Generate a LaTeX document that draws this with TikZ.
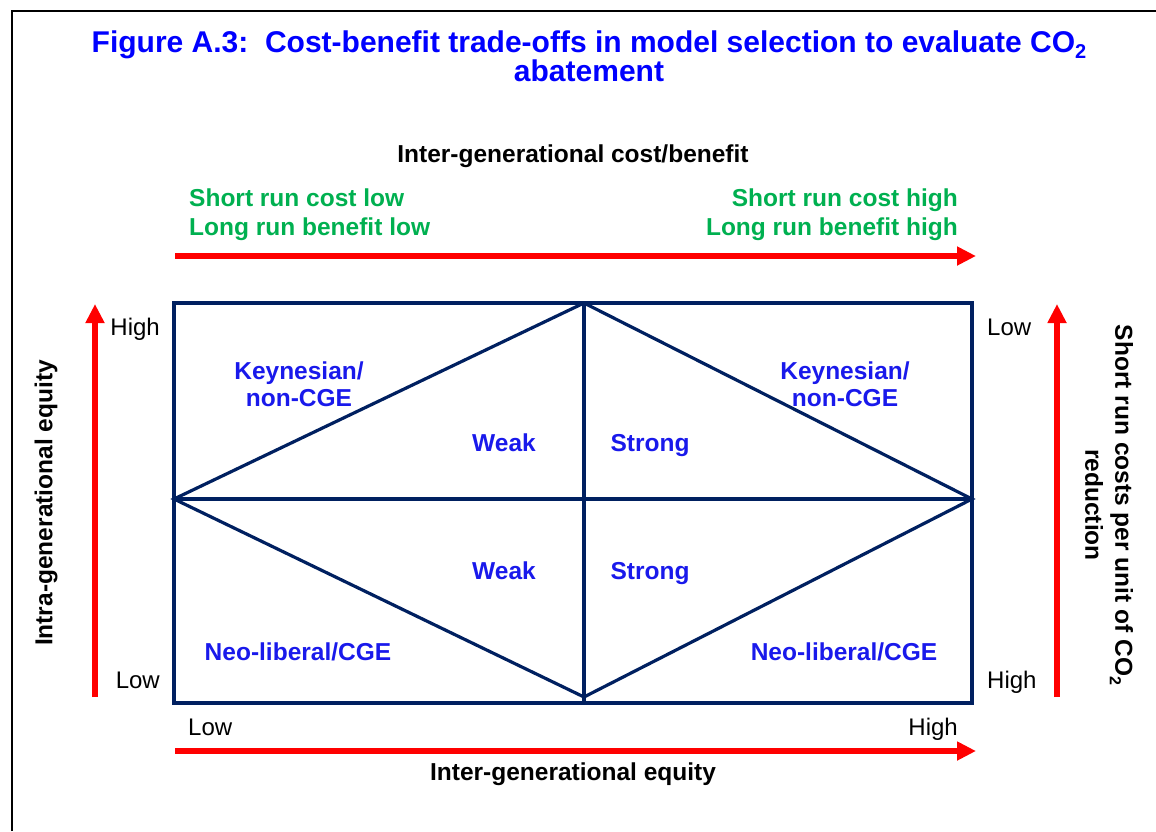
\documentclass[tikz,border=0pt]{standalone}
\usepackage{fontspec}
\setmainfont{Liberation Sans}
\usetikzlibrary{arrows.meta}
\definecolor{titleblue}{RGB}{0,0,255}
\definecolor{lblblue}{RGB}{25,25,235}
\definecolor{navyline}{RGB}{0,32,96}
\definecolor{grn}{RGB}{0,176,80}
\newcommand{\subtwo}{\raisebox{-0.22em}{\fontsize{16}{16}\selectfont 2}}
\newcommand{\subtwotitle}{\raisebox{-0.22em}{\fontsize{20}{20}\selectfont 2}}
\tikzset{
  redarrow/.style={draw=red, line width=5.5pt, -{Triangle[length=19pt,width=18pt]}},
  boxline/.style={draw=navyline, line width=4pt},
  innerline/.style={draw=navyline, line width=3.2pt},
  frameline/.style={draw=black, line width=1.6pt},
  titletext/.style={font=\fontsize{30}{34}\selectfont\bfseries, text=titleblue, inner sep=0pt, anchor=base},
  axistext/.style={font=\fontsize{24.5}{30}\selectfont\bfseries, text=black, inner sep=0pt},
  greentext/.style={font=\fontsize{24.5}{29}\selectfont\bfseries, text=grn, inner sep=0pt, anchor=base},
  ticktext/.style={font=\fontsize{24}{29}\selectfont, text=black, inner sep=0pt},
  bluetext/.style={font=\fontsize{24.5}{27}\selectfont\bfseries, text=lblblue, inner sep=0pt, align=center},
}
\begin{document}
\begin{tikzpicture}[x=1pt,y=-1pt]
\useasboundingbox (0,0) rectangle (1156,831);
% outer frame (left and top)
\coordinate (F0) at (12,831);
\coordinate (F1) at (12,11);
\coordinate (F2) at (1157,11);
\draw[frameline] (F0) -- (F1) -- (F2);
% title
\node[titletext] (t1) at (589,52) {Figure A.3:\ \ Cost-benefit trade-offs in model selection to evaluate CO\subtwotitle};
\node[titletext] (t2) at (589,81) {abatement};
% top header
\node[axistext, anchor=base] (ih) at (573,162) {Inter-generational cost/benefit};
\node[greentext, anchor=base west] (g1) at (189,206) {Short run cost low};
\node[greentext, anchor=base west] (g2) at (189,235) {Long run benefit low};
\node[greentext, anchor=base east] (g3) at (958,206) {Short run cost high};
\node[greentext, anchor=base east] (g4) at (958,235) {Long run benefit high};
% arrows
\coordinate (ta0) at (175,256);
\coordinate (ta1) at (976,256);
\draw[redarrow] (ta0) -- (ta1);
\coordinate (ba0) at (175,751);
\coordinate (ba1) at (976,751);
\draw[redarrow] (ba0) -- (ba1);
\coordinate (la0) at (95,697);
\coordinate (la1) at (95,304);
\draw[redarrow] (la0) -- (la1);
\coordinate (ra0) at (1057,697);
\coordinate (ra1) at (1057,304);
\draw[redarrow] (ra0) -- (ra1);
% box
\coordinate (TL) at (174,303);
\coordinate (TR) at (972,303);
\coordinate (BR) at (972,703);
\coordinate (BL) at (174,703);
\coordinate (TM) at (584,303);
\coordinate (BM) at (584,703);
\coordinate (ML) at (174,499);
\coordinate (MR) at (972,499);
\coordinate (BA) at (584,697);
\draw[innerline] (TM) -- (BM);
\draw[innerline] (ML) -- (MR);
\draw[innerline] (ML) -- (TM) -- (MR) -- (BA) -- cycle;
\draw[boxline] (TL) rectangle (BR);
% tick labels
\node[ticktext, anchor=base east] (hl) at (160,335) {High};
\node[ticktext, anchor=base east] (ll) at (160,688) {Low};
\node[ticktext, anchor=base west] (lr) at (987,335) {Low};
\node[ticktext, anchor=base west] (hr) at (987,688) {High};
\node[ticktext, anchor=base west] (lb) at (188,735) {Low};
\node[ticktext, anchor=base east] (hb) at (958,735) {High};
% axis titles
\node[axistext, anchor=base] (ie) at (573,780) {Inter-generational equity};
\node[axistext, rotate=90] (ia) at (46,503) {Intra-generational equity};
\node[axistext, rotate=-90, align=center] (sr) at (1109,505) {Short run costs per unit of CO\subtwo\\reduction};
% quadrant labels
\node[bluetext] (k1) at (299,384) {Keynesian/\\non-CGE};
\node[bluetext] (k2) at (845,384) {Keynesian/\\non-CGE};
\node[bluetext, anchor=base] (w1) at (504,451) {Weak};
\node[bluetext, anchor=base] (s1) at (650,451) {Strong};
\node[bluetext, anchor=base] (w2) at (504,579) {Weak};
\node[bluetext, anchor=base] (s2) at (650,579) {Strong};
\node[bluetext, anchor=base] (n1) at (298,660) {Neo-liberal/CGE};
\node[bluetext, anchor=base] (n2) at (844,660) {Neo-liberal/CGE};
\end{tikzpicture}
\end{document}
